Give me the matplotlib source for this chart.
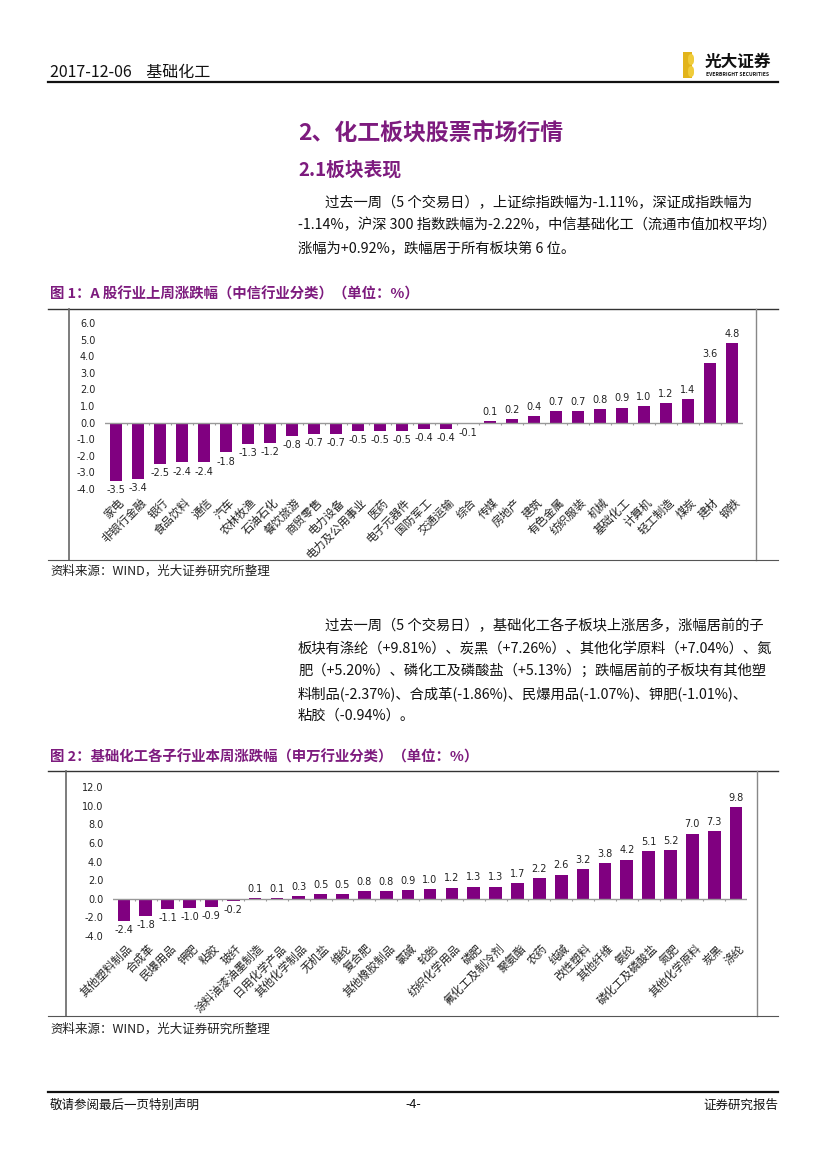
import matplotlib
matplotlib.use("Agg")
import matplotlib.pyplot as plt
from matplotlib.patches import Rectangle, FancyBboxPatch
from matplotlib.lines import Line2D
import numpy as np

plt.rcParams['font.family'] = ['Noto Sans CJK SC', 'DejaVu Sans']

# ---------------- data ----------------
cats1 = ["家电", "非银行金融", "银行", "食品饮料", "通信", "汽车", "农林牧渔", "石油石化",
         "餐饮旅游", "商贸零售", "电力设备", "电力及公用事业", "医药", "电子元器件", "国防军工",
         "交通运输", "综合", "传媒", "房地产", "建筑", "有色金属", "纺织服装", "机械",
         "基础化工", "计算机", "轻工制造", "煤炭", "建材", "钢铁"]
vals1 = [-3.5, -3.4, -2.5, -2.4, -2.4, -1.8, -1.3, -1.2, -0.8, -0.7, -0.7, -0.5, -0.5, -0.5,
         -0.4, -0.4, -0.1, 0.1, 0.2, 0.4, 0.7, 0.7, 0.8, 0.9, 1.0, 1.2, 1.4, 3.6, 4.8]
yticks1 = [-4, -3, -2, -1, 0, 1, 2, 3, 4, 5, 6]

cats2 = ["其他塑料制品", "合成革", "民爆用品", "钾肥", "粘胶", "玻纤", "涂料油漆油墨制造",
         "日用化学产品", "其他化学制品", "无机盐", "维纶", "复合肥", "其他橡胶制品", "氯碱",
         "轮胎", "纺织化学用品", "磷肥", "氟化工及制冷剂", "聚氨酯", "农药", "纯碱", "改性塑料",
         "其他纤维", "氨纶", "磷化工及磷酸盐", "氮肥", "其他化学原料", "炭黑", "涤纶"]
vals2 = [-2.4, -1.8, -1.1, -1.0, -0.9, -0.2, 0.1, 0.1, 0.3, 0.5, 0.5, 0.8, 0.8, 0.9, 1.0,
         1.2, 1.3, 1.3, 1.7, 2.2, 2.6, 3.2, 3.8, 4.2, 5.1, 5.2, 7.0, 7.3, 9.8]
yticks2 = [-4, -2, 0, 2, 4, 6, 8, 10, 12]

PURPLE = "#800080"
TITLE_PURPLE = "#7D1B7E"
W, H = 827, 1169

fig = plt.figure(figsize=(W / 100, H / 100), dpi=100)


def fy(y):
    return 1 - y / H


def fx(x):
    return x / W


def hline(y, x0, x1, lw=1.0, color="#333333"):
    fig.add_artist(Line2D([fx(x0), fx(x1)], [fy(y), fy(y)], lw=lw, color=color,
                          transform=fig.transFigure))


def vline(x, y0, y1, lw=1.0, color="#555555"):
    fig.add_artist(Line2D([fx(x), fx(x)], [fy(y0), fy(y1)], lw=lw, color=color,
                          transform=fig.transFigure))


def ftext(x, y, s, **kw):
    fig.text(fx(x), fy(y), s, **kw)


# ---------------- header ----------------
ftext(50, 72, "2017-12-06    基础化工", fontsize=11.5, va="center", ha="left", color="#111111")
hline(82, 48, 778, lw=1.6, color="#111111")
# logo
fig.add_artist(Rectangle((fx(683), fy(78)), 9 / W, 26 / H, transform=fig.transFigure,
                         facecolor="#E2B41B", edgecolor="none"))
fig.add_artist(FancyBboxPatch((fx(688), fy(77)), 6 / W, 11 / H, transform=fig.transFigure,
                              boxstyle="round,pad=0,rounding_size=0.004",
                              facecolor="#F0CC3A", edgecolor="none"))
fig.add_artist(FancyBboxPatch((fx(688), fy(65)), 6 / W, 11 / H, transform=fig.transFigure,
                              boxstyle="round,pad=0,rounding_size=0.004",
                              facecolor="#F0CC3A", edgecolor="none"))
ftext(738, 62, "光大证券", fontsize=12, fontweight="bold", ha="center", va="center",
      color="#111111")
ftext(738, 74, "EVERBRIGHT SECURITIES", fontsize=3.6, fontweight="bold", ha="center",
      va="center", color="#111111")

# ---------------- section titles ----------------
ftext(298, 133, "2、化工板块股票市场行情", fontsize=16.5, fontweight="bold", color=TITLE_PURPLE,
      va="center", ha="left")
ftext(298, 170, "2.1板块表现", fontsize=13.5, fontweight="bold", color=TITLE_PURPLE,
      va="center", ha="left")

BODY = 10.3
para1 = [(325, 203, "过去一周（5 个交易日），上证综指跌幅为-1.11%，深证成指跌幅为"),
         (298, 225, "-1.14%，沪深 300 指数跌幅为-2.22%，中信基础化工（流通市值加权平均）"),
         (298, 248, "涨幅为+0.92%，跌幅居于所有板块第 6 位。")]
for x, y, s in para1:
    ftext(x, y, s, fontsize=BODY, va="center", ha="left", color="#111111")

# ---------------- chart 1 ----------------
ftext(50, 294, "图 1：A 股行业上周涨跌幅（中信行业分类）（单位：%）", fontsize=10.4,
      fontweight="bold", color=TITLE_PURPLE, va="center", ha="left")
hline(309, 48, 778, lw=1.0, color="#333333")
vline(69, 309, 560, lw=1.2, color="#666666")
vline(756, 309, 560, lw=1.0, color="#888888")
hline(560, 48, 778, lw=0.8, color="#555555")
ftext(50, 571, "资料来源：WIND，光大证券研究所整理", fontsize=9, va="center", ha="left",
      color="#222222")


def draw_chart(rect, cats, vals, yticks, tick_len, lab_off):
    ax = fig.add_axes(rect)
    x = np.arange(len(cats))
    ax.bar(x, vals, width=0.58, color=PURPLE, zorder=3)
    ax.set_xlim(-0.5, len(cats) - 0.5)
    ax.set_ylim(yticks[0], yticks[-1])
    ax.set_yticks(yticks)
    ax.set_yticklabels([f"{t:.1f}" for t in yticks], fontsize=7, color="#222222",
                       family=["DejaVu Sans"])
    ax.tick_params(axis="y", length=0, pad=7)
    ax.set_xticks([])
    for sp in ax.spines.values():
        sp.set_visible(False)
    ax.axhline(0, color="#999999", lw=1.0, zorder=4)
    ax.vlines(x[:-1] + 0.5, -tick_len, 0, color="#999999", lw=0.8, zorder=4)
    for xi, v in zip(x, vals):
        ax.annotate(f"{v:.1f}", (xi, v), xytext=(0, 3 if v >= 0 else -3),
                    textcoords="offset points", ha="center",
                    va="bottom" if v >= 0 else "top", fontsize=7, color="#222222",
                    family=["DejaVu Sans"])
    for xi, c in zip(x, cats):
        ax.text(xi + 0.3, lab_off, c, transform=ax.get_xaxis_transform(),
                rotation=45, rotation_mode="anchor", ha="right", va="center",
                fontsize=8.2, color="#222222")
    ax.patch.set_alpha(0)
    return ax


draw_chart([fx(105), fy(489), (743 - 105) / W, (489 - 323) / H], cats1, vals1, yticks1,
           0.12, -0.07)

# paragraph 2
para2 = [(325, 626, "过去一周（5 个交易日），基础化工各子板块上涨居多，涨幅居前的子"),
         (298, 649, "板块有涤纶（+9.81%）、炭黑（+7.26%）、其他化学原料（+7.04%）、氮"),
         (298, 671, "肥（+5.20%）、磷化工及磷酸盐（+5.13%）；跌幅居前的子板块有其他塑"),
         (298, 694, "料制品(-2.37%)、合成革(-1.86%)、民爆用品(-1.07%)、钾肥(-1.01%)、"),
         (298, 716, "粘胶（-0.94%）。")]
for x, y, s in para2:
    ftext(x, y, s, fontsize=BODY, va="center", ha="left", color="#111111")

# ---------------- chart 2 ----------------
ftext(50, 757, "图 2：基础化工各子行业本周涨跌幅（申万行业分类）（单位：%）", fontsize=10.4,
      fontweight="bold", color=TITLE_PURPLE, va="center", ha="left")
hline(771, 48, 778, lw=1.0, color="#333333")
vline(66, 771, 1016, lw=1.2, color="#666666")
vline(757, 771, 1016, lw=1.0, color="#888888")
hline(1016, 48, 778, lw=0.8, color="#555555")
ftext(50, 1029, "资料来源：WIND，光大证券研究所整理", fontsize=9, va="center", ha="left",
      color="#222222")

draw_chart([fx(113), fy(936), (747 - 113) / W, (936 - 787) / H], cats2, vals2, yticks2,
           0.22, -0.07)

# ---------------- footer ----------------
hline(1092, 48, 778, lw=1.6, color="#111111")
ftext(50, 1105, "敬请参阅最后一页特别声明", fontsize=9, va="center", ha="left", color="#111111")
ftext(413, 1105, "-4-", fontsize=9, va="center", ha="center", color="#111111")
ftext(778, 1105, "证券研究报告", fontsize=9, va="center", ha="right", color="#111111")

fig.savefig("out.png", dpi=100)
